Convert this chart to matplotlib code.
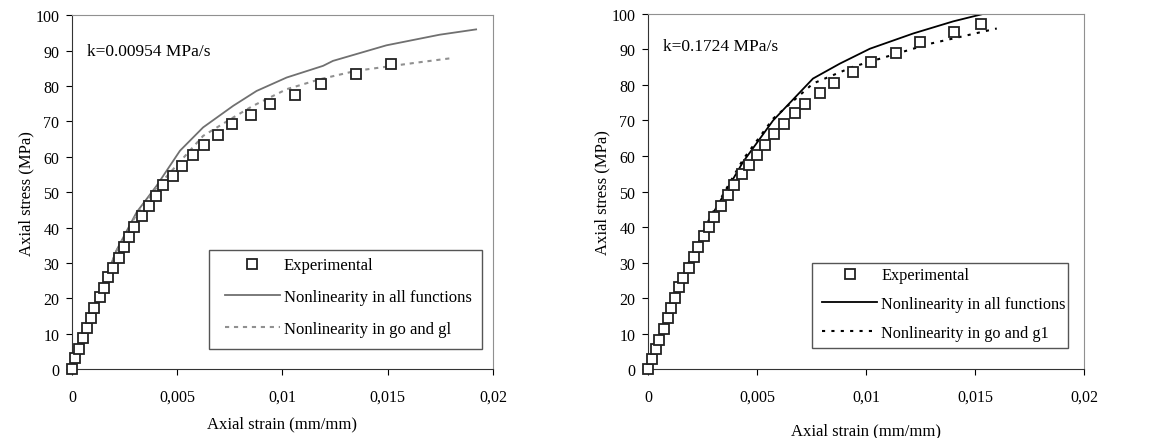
import numpy as np
import matplotlib
matplotlib.use("Agg")
import matplotlib.pyplot as plt
import matplotlib.patches as patches

plt.rcParams['font.family'] = ['Liberation Serif', 'DejaVu Serif']

# ====== data: left panel (k=0.00954 MPa/s) ======
exp1_strain = [0, 0.00014, 0.00033, 0.00052, 0.00073, 0.00092, 0.00106, 0.00131, 0.0015, 0.00169,
               0.00196, 0.00222, 0.00248, 0.00269, 0.00294, 0.00334, 0.00367, 0.004, 0.00432, 0.00478,
               0.00524, 0.00576, 0.00628, 0.00693, 0.0076, 0.00851, 0.00943, 0.0106, 0.01184, 0.01348,
               0.01517]
exp1_stress = [0, 3.0, 5.6, 8.7, 11.6, 14.3, 17.3, 20.3, 23.0, 25.9,
               28.6, 31.5, 34.6, 37.2, 40.2, 43.3, 46.0, 49.0, 52.0, 54.5,
               57.5, 60.5, 63.2, 66.2, 69.4, 71.8, 74.9, 77.5, 80.5, 83.5,
               86.2]
all1_strain = [0, 0.0007, 0.0014, 0.0021, 0.00307, 0.00402, 0.00513, 0.00623, 0.00766, 0.00877,
               0.0102, 0.01193, 0.0124, 0.01494, 0.01747, 0.0192]
all1_stress = [0, 11.5, 22.5, 33.4, 44.3, 51.8, 61.7, 68.3, 74.4, 78.6,
               82.4, 85.7, 87.1, 91.5, 94.5, 96.0]
g1_strain = [0, 0.0007, 0.0014, 0.0021, 0.00307, 0.00402, 0.00481, 0.00623, 0.00766, 0.0086,
             0.0102, 0.01177, 0.0135, 0.01525, 0.01636, 0.01794]
g1_stress = [0, 11.5, 22.5, 33.2, 43.8, 51.3, 56.5, 65.9, 71.1, 74.4,
             79.1, 81.9, 84.3, 85.7, 86.6, 87.8]

# ====== data: right panel (k=0.1724 MPa/s) ======
exp2_strain = [0, 0.00017, 0.00037, 0.00049, 0.00073, 0.00092, 0.00106, 0.00124, 0.00142, 0.00162,
               0.00187, 0.00211, 0.0023, 0.00256, 0.0028, 0.00305, 0.00337, 0.00367, 0.00393, 0.00432,
               0.00462, 0.005, 0.00537, 0.0058, 0.00624, 0.00673, 0.00722, 0.00791, 0.00854, 0.0094,
               0.01021, 0.0114, 0.0125, 0.01403, 0.01526]
exp2_stress = [0, 2.8, 5.6, 8.3, 11.3, 14.3, 17.2, 20.1, 23.1, 25.7,
               28.6, 31.5, 34.5, 37.4, 39.9, 42.9, 45.9, 48.9, 51.9, 54.8,
               57.4, 60.2, 63.2, 66.2, 69.1, 72.1, 74.7, 77.6, 80.6, 83.6,
               86.5, 89.0, 92.1, 94.9, 97.2]
all2_strain = [0, 0.0007, 0.0014, 0.0021, 0.0029, 0.00436, 0.00574, 0.00757, 0.0088, 0.01018,
               0.01217, 0.014, 0.01538]
all2_stress = [0, 12.0, 23.5, 33.0, 43.0, 58.3, 70.0, 81.8, 86.0, 90.2,
               94.5, 97.9, 100.0]
g2_strain = [0, 0.0007, 0.0014, 0.0021, 0.0029, 0.00436, 0.00574, 0.00757, 0.0094, 0.0114,
             0.01293, 0.0143, 0.016]
g2_stress = [0, 12.0, 23.5, 33.2, 43.3, 59.0, 70.5, 80.4, 85.1, 88.8,
             91.6, 93.5, 95.9]

x_ticks = [0, 0.005, 0.01, 0.015, 0.02]
x_tick_labels = ["0", "0,005", "0,01", "0,015", "0,02"]
y_ticks = list(range(0, 101, 10))

# panel settings (positions picked to line up with the original figure)
# box = legend frame (x0, y0, x1, y1) in axes coords, anchor = handle start / rows centre
panels = [
    dict(exp=(exp1_strain, exp1_stress), all=(all1_strain, all1_stress), g=(g1_strain, g1_stress),
         note="k=0.00954 MPa/s", note_y=0.898, all_color="#707070", g_color="#909090", ls=(0, (2, 2.3)),
         g_label="Nonlinearity in go and gl",
         pos=[0.0623, 0.157, 0.3645, 0.806], box=(0.325, 0.056, 0.974, 0.336), anchor=(0.363, 0.203),
         leg_fs=12, spacing=0.95, hlen=3.3, xlabel_pad=8),
    dict(exp=(exp2_strain, exp2_stress), all=(all2_strain, all2_stress), g=(g2_strain, g2_stress),
         note="k=0.1724 MPa/s", note_y=0.910, all_color="black", g_color="black", ls=(0, (1.5, 3)),
         g_label="Nonlinearity in go and g1",
         pos=[0.561, 0.157, 0.3775, 0.809], box=(0.376, 0.059, 0.963, 0.299), anchor=(0.399, 0.183),
         leg_fs=11.7, spacing=0.79, hlen=3.4, xlabel_pad=13),
]

fig = plt.figure(figsize=(11.55, 4.39), dpi=100)

for p in panels:
    ax = fig.add_axes(p["pos"])
    ax.plot(p["exp"][0], p["exp"][1], "s", markersize=6.8, markerfacecolor="white",
            markeredgecolor="#222222", markeredgewidth=1.3, label="Experimental", zorder=3,
            clip_on=False)
    ax.plot(p["all"][0], p["all"][1], "-", color=p["all_color"], lw=1.3,
            label="Nonlinearity in all functions", zorder=2)
    ax.plot(p["g"][0], p["g"][1], color=p["g_color"], linestyle=p["ls"], lw=1.5,
            label=p["g_label"], zorder=2)

    ax.set_xlim(0, 0.02)
    ax.set_ylim(0, 100)
    ax.set_xticks(x_ticks)
    ax.set_xticklabels(x_tick_labels)
    ax.set_yticks(y_ticks)
    ax.tick_params(direction="out", length=4, labelsize=11.5, top=False, right=False)
    ax.tick_params(axis="x", pad=10)
    ax.tick_params(axis="y", pad=5)
    for side in ["top", "right"]:
        ax.spines[side].set_color("#909090")
    for side in ["left", "bottom"]:
        ax.spines[side].set_color("#333333")
    ax.set_xlabel("Axial strain (mm/mm)", fontsize=12, labelpad=p["xlabel_pad"])
    ax.set_ylabel("Axial stress (MPa)", fontsize=12, labelpad=0.5)
    ax.text(0.035, p["note_y"], p["note"], transform=ax.transAxes, fontsize=12.5, va="center")

    # legend frame drawn separately so padding can differ from the content position
    x0, y0, x1, y1 = p["box"]
    frame = patches.Rectangle((x0, y0), x1 - x0, y1 - y0, transform=ax.transAxes,
                              facecolor="white", edgecolor="#555555", lw=1.0, zorder=4)
    ax.add_patch(frame)
    leg = ax.legend(loc="center left", bbox_to_anchor=p["anchor"], fontsize=p["leg_fs"],
                    frameon=False, handlelength=p["hlen"], labelspacing=p["spacing"],
                    borderpad=0, handletextpad=0.25, borderaxespad=0)
    leg.set_zorder(5)

plt.savefig("out.png", dpi=100)
